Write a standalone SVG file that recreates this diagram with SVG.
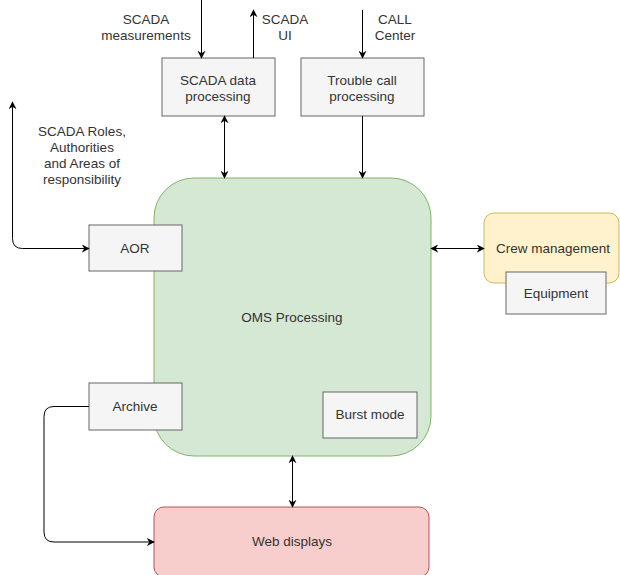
<svg xmlns="http://www.w3.org/2000/svg" width="620" height="575" viewBox="0 0 620 575">
<defs>
<marker id="ah" viewBox="0 0 10 10" refX="9" refY="5" markerWidth="8" markerHeight="8" markerUnits="userSpaceOnUse" orient="auto-start-reverse">
<path d="M0,0 L10,5 L0,10 L3,5 Z" fill="#000"/>
</marker>
<style>
text{font-family:"Liberation Sans",Arial,sans-serif;font-size:13.5px;fill:#333;text-anchor:middle;dominant-baseline:central}
.box{fill:#f5f5f5;stroke:#666;stroke-width:1}
.edge{fill:none;stroke:#000;stroke-width:1;marker-end:url(#ah)}
.both{marker-start:url(#ah)}
</style>
</defs>
<rect width="620" height="575" fill="#fff"/>
<g id="oms"><rect x="154" y="178" width="277" height="278" rx="40" fill="#d5e8d4" stroke="#82b366"/><text x="292" y="317">OMS Processing</text></g>
<g id="web"><rect x="154" y="507" width="275" height="70" rx="10" fill="#f8cecc" stroke="#b85450"/><text x="292" y="541">Web displays</text></g>
<g id="crew"><rect x="484" y="213" width="135" height="70" rx="10" fill="#fff2cc" stroke="#d6b656"/><text x="553" y="248">Crew management</text></g>
<g id="equipment"><rect class="box" x="506" y="272" width="100" height="42"/><text x="556" y="293">Equipment</text></g>
<g id="scada"><rect class="box" x="162" y="58" width="113" height="58"/><text x="218" y="80">SCADA data</text><text x="218" y="96">processing</text></g>
<g id="trouble"><rect class="box" x="301" y="58" width="123" height="58"/><text x="362" y="80">Trouble call</text><text x="362" y="96">processing</text></g>
<g id="aor"><rect class="box" x="89" y="225" width="93" height="46"/><text x="135" y="248">AOR</text></g>
<g id="archive"><rect class="box" x="89" y="383" width="93" height="47"/><text x="135" y="406">Archive</text></g>
<g id="burst"><rect class="box" x="323" y="392" width="94" height="46"/><text x="370" y="414">Burst mode</text></g>
<g id="labels">
<text x="146" y="19">SCADA</text><text x="146" y="35">measurements</text>
<text x="285" y="19">SCADA</text><text x="285" y="35">UI</text>
<text x="395" y="19">CALL</text><text x="395" y="35">Center</text>
<text x="82" y="131">SCADA Roles,</text><text x="82" y="147">Authorities</text><text x="82" y="163">and Areas of</text><text x="82" y="179">responsibility</text>
</g>
<g id="connectors">
<path class="edge" d="M201.5,0 V58"/>
<path class="edge" d="M253.5,58 V10"/>
<path class="edge" d="M362.5,10 V58"/>
<path class="edge both" d="M224.5,116 V178"/>
<path class="edge" d="M362.5,116 V178"/>
<path class="edge both" d="M89,248.5 H22.5 Q12.5,248.5 12.5,238.5 V102"/>
<path class="edge both" d="M431,248.5 H484"/>
<path class="edge both" d="M292.5,456 V507"/>
<path class="edge" d="M89,406.5 H54 Q44,406.5 44,416.5 V532 Q44,542 54,542 H154"/>
</g>
</svg>
